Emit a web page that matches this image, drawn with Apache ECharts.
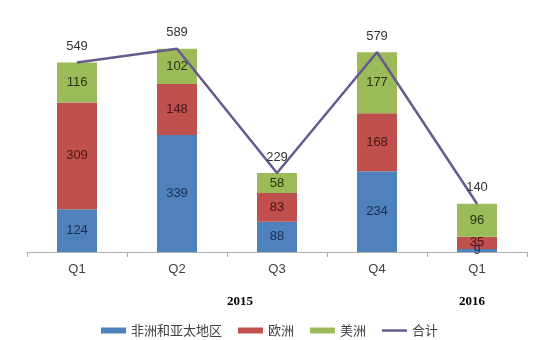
<!DOCTYPE html>
<html><head><meta charset="utf-8">
<script src="https://cdn.jsdelivr.net/npm/echarts@6/dist/echarts.min.js"></script>
<style>html,body{margin:0;padding:0;background:#fff}#c{width:547px;height:340px}</style>
</head><body><div id="c"></div>
<script>
var categories = ['Q1', 'Q2', 'Q3', 'Q4', 'Q1'];
var afAsia = [124, 339, 88, 234, 9];
var europe = [309, 148, 83, 168, 35];
var americas = [116, 102, 58, 177, 96];
var total = [549, 589, 229, 579, 140];
var years = ['2015', '2016'];
var seriesNames = ['非洲和亚太地区', '欧洲', '美洲', '合计'];

var chart = echarts.init(document.getElementById('c'), null, {renderer: 'canvas'});
var lblFont = 'Liberation Sans, Arial, sans-serif';
function barSeries(name, data, color, lblColor) {
  return {
    name: name, type: 'bar', stack: 's', data: data, barWidth: 40,
    itemStyle: {color: color},
    label: {show: true, position: 'inside', color: lblColor, fontSize: 13, fontFamily: lblFont},
    emphasis: {disabled: true}
  };
}
chart.setOption({
  animation: false,
  grid: {left: 27, width: 500, top: 10.5, height: 241.5},
  xAxis: {
    type: 'category', data: categories, boundaryGap: true,
    axisLine: {lineStyle: {color: '#b0b0b0', width: 1}},
    axisTick: {show: true, length: 5, inside: false, lineStyle: {color: '#b0b0b0'}},
    axisLabel: {color: '#404040', fontSize: 13, fontFamily: lblFont, margin: 11}
  },
  yAxis: {type: 'value', min: 0, max: 700, show: false, splitLine: {show: false}},
  legend: {
    left: 96, top: 319, itemWidth: 25, itemHeight: 6, itemGap: 16,
    textStyle: {color: '#404040', fontSize: 13, fontFamily: 'Noto Sans CJK SC'},
    data: [
      {name: seriesNames[0], icon: 'rect'},
      {name: seriesNames[1], icon: 'rect'},
      {name: seriesNames[2], icon: 'rect'},
      {name: seriesNames[3], icon: 'path://M0,0L25,0L25,2.5L0,2.5Z'}
    ]
  },
  graphic: [
    {type: 'text', left: 227, top: 295, style: {text: years[0], font: 'bold 13px "Liberation Serif", serif', fill: '#000'}},
    {type: 'text', left: 459, top: 295, style: {text: years[1], font: 'bold 13px "Liberation Serif", serif', fill: '#000'}}
  ],
  series: [
    barSeries(seriesNames[0], afAsia, '#4f81bd', '#1c2f52'),
    barSeries(seriesNames[1], europe, '#c0504d', '#4a1414'),
    barSeries(seriesNames[2], americas, '#9bbb59', '#26330e'),
    {
      name: seriesNames[3], type: 'line', data: total,
      symbol: 'circle', symbolSize: 1, showSymbol: true,
      lineStyle: {color: '#675a8e', width: 2.5}, itemStyle: {color: '#675a8e'},
      label: {show: true, position: 'top', distance: 9, color: '#333', fontSize: 13, fontFamily: lblFont},
      emphasis: {disabled: true}, z: 5
    }
  ]
});
</script></body></html>
